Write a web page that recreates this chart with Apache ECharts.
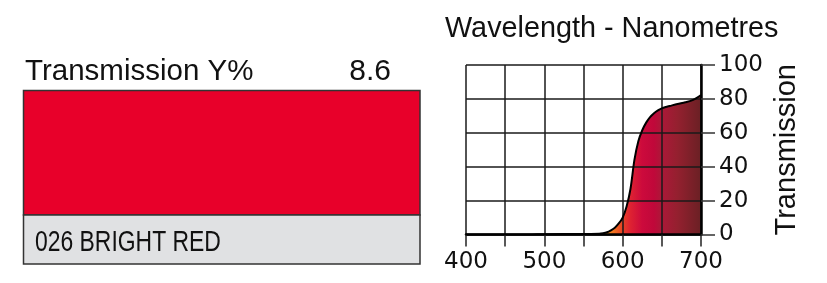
<!DOCTYPE html>
<html>
<head>
<meta charset="utf-8">
<script src="https://cdn.jsdelivr.net/npm/echarts@6/dist/echarts.min.js"></script>
<style>
html,body{margin:0;padding:0;background:#fff;}
#c{width:827px;height:283px;}
</style>
</head>
<body>
<div id="c"></div>
<script>
// ---- data ----
const filterName = '026 BRIGHT RED';
const transmissionY = '8.6';
const chartTitle = 'Wavelength - Nanometres';
const yAxisTitle = 'Transmission';
const wavelengths = [400, 450, 480, 500, 550, 570, 575, 580, 585, 590, 595, 600, 605, 610, 615, 620, 625, 630, 635, 640, 645, 650, 655, 660, 670, 680, 690, 700];
const transmission = [0, 0, 0, 0.2, 0.3, 0.4, 0.7, 1.3, 2.5, 4, 6.5, 10, 16.5, 27, 44, 55, 61.5, 66, 69.2, 71.5, 73.2, 74.4, 75.2, 75.8, 77, 78, 79.4, 82.3];
const xTickLabels = [400, 500, 600, 700];

const pts = wavelengths.map((w, i) => [w, transmission[i]]);
const chart = echarts.init(document.getElementById('c'), null, {renderer: 'canvas'});

const font = 'Liberation Sans, Arial, Helvetica, sans-serif';
const tickFont = 'DejaVu Sans, Verdana, sans-serif';

chart.setOption({
  animation: false,
  backgroundColor: '#ffffff',
  title: {
    text: chartTitle,
    left: 440, top: 10,
    textStyle: {fontFamily: font, fontSize: 28.8, fontWeight: 'normal', color: '#111'}
  },
  grid: {left: 466, right: 126, top: 65, bottom: 48.5, containLabel: false, outerBoundsMode: 'none'},
  xAxis: {
    type: 'value', min: 400, max: 700, interval: 50, z: 3,
    axisLine: {show: true, lineStyle: {color: '#000', width: 2.5}},
    axisTick: {show: true, length: 12, lineStyle: {color: '#222', width: 1.5}},
    axisLabel: {
      margin: 16, fontFamily: tickFont, fontSize: 23, color: '#111',
      formatter: v => xTickLabels.indexOf(v) >= 0 ? String(v) : ''
    },
    splitLine: {show: true, lineStyle: {color: '#1a1a1a', width: 1.5}}
  },
  yAxis: {
    type: 'value', position: 'right', min: 0, max: 100, interval: 20, z: 3,
    name: yAxisTitle, nameLocation: 'middle', nameRotate: 90, nameGap: 71,
    nameTextStyle: {fontFamily: font, fontSize: 29, color: '#111'},
    axisLine: {show: true, lineStyle: {color: '#000', width: 2.5}},
    axisTick: {show: true, inside: false, length: 14, lineStyle: {color: '#333', width: 1.5}},
    axisLabel: {margin: 18, fontFamily: tickFont, fontSize: 23, color: '#111', padding: [9, 0, 0, 0]},
    splitLine: {show: true, lineStyle: {color: '#1a1a1a', width: 1.5}}
  },
  series: [
    {
      type: 'line', data: pts, smooth: 0.3, symbol: 'none', z: 1,
      lineStyle: {width: 0, opacity: 0},
      areaStyle: {
        opacity: 1,
        color: new echarts.graphic.LinearGradient(0, 0, 1, 0, [
          {offset: 0, color: '#f7b01e'},
          {offset: 0.58, color: '#f7b01e'},
          {offset: 0.63, color: '#f07020'},
          {offset: 0.667, color: '#e84026'},
          {offset: 0.7, color: '#de2232'},
          {offset: 0.75, color: '#cc0a3c'},
          {offset: 0.8, color: '#c0083a'},
          {offset: 0.833, color: '#ac1838'},
          {offset: 0.9, color: '#94202f'},
          {offset: 1, color: '#6a2024'}
        ])
      }
    },
    {
      type: 'line', data: pts, smooth: 0.3, symbol: 'none', z: 5,
      lineStyle: {color: '#000', width: 2}
    }
  ],
  graphic: [
    {type: 'text', left: 25, top: 57, style: {text: 'Transmission Y%', font: '29.5px ' + font, fill: '#111'}},
    {type: 'text', right: 827 - 391, top: 57, style: {text: transmissionY, font: '30px ' + font, fill: '#111'}},
    {type: 'rect', shape: {x: 23.5, y: 90.5, width: 396.5, height: 124.5}, style: {fill: '#e8002a', stroke: '#333', lineWidth: 1.5}},
    {type: 'rect', shape: {x: 23.5, y: 215, width: 396.5, height: 49}, style: {fill: '#e0e1e3', stroke: '#333', lineWidth: 1.5}},
    {type: 'text', x: 35, y: 228, scaleX: 0.79, style: {text: filterName, font: '29px ' + font, fill: '#111'}}
  ]
});
</script>
</body>
</html>
